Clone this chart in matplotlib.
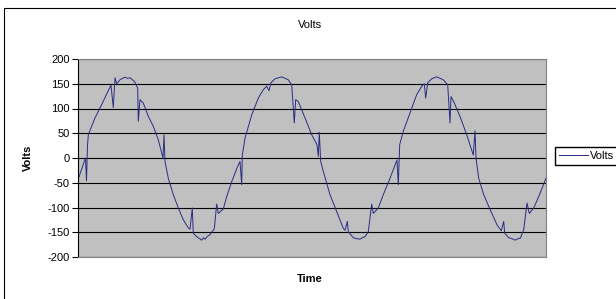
import matplotlib
matplotlib.use("Agg")
import matplotlib.pyplot as plt
from matplotlib.patches import Rectangle

plt.rcParams['font.family'] = ['Liberation Sans', 'DejaVu Sans']

# muestras (eje de tiempo, sin unidades) y tension en volts
muestra = [
    # ciclo 1
    0, 7.5, 8.5, 9.5, 10.3, 17, 23.7, 30, 33, 35.3, 37, 38.7, 42, 44.5, 47, 49.5,
    52, 56.3, 58.7, 59.7, 60.3, 62, 63.7, 65.3, 70.3, 75.3, 79, 80.3, 83.7, 85,
    86, 87, 90.3, 95.3, 100.3, 105.3, 110.3, 112, 114.3, 115.3, 118.7, 121,
    123.7, 125.5, 127, 129.5, 132, 136.3, 138.7, 140.3, 145.3, 148.7, 153.7, 159,
    # ciclo 2
    162, 163.7, 164.3, 167, 173.7, 180.3, 185.3, 188.7, 191, 193, 197, 200.5,
    203.7, 207, 210.3, 213.7, 216.3, 217.7, 220.3, 227, 233.7, 239, 240.3, 241.3,
    242.7, 245.3, 252, 258.7, 265.3, 267, 269.3, 270.3, 275.3, 278.5, 282, 284.5,
    287, 290.3, 293.7, 295.3, 300.3, 305.3, 312, 319,
    # ciclo 3
    320.3, 321.7, 325.3, 332, 338.7, 343.7, 346.3, 347.7, 349.7, 353.7, 356,
    358.7, 362, 365.3, 369.7, 372, 373, 376.3, 382, 388.7, 395.3, 397, 398,
    400.7, 405.7, 412.3, 419, 423.3, 425.7, 426.7, 430.7, 434, 437.3, 440,
    442.3, 445.7, 449, 451.3, 455.7, 460.7, 468,
]
volts = [
    # ciclo 1
    -44, 0, -46, 25, 47, 81, 108, 135, 147, 102, 162, 150, 158, 161, 163, 161,
    162, 155, 145, 141, 74, 118, 114, 111, 84, 64, 44, 37, 10, 0,
    47, -7, -41, -74, -101, -125, -141, -144, -101, -152, -159, -162,
    -166, -161, -164, -158, -155, -143, -93, -112, -103, -78, -48, -20,
    # ciclo 2
    -7, -54, 6, 40, 87, 121, 138, 145, 136, 152, 160, 162,
    164, 161, 158, 148, 71, 118, 114, 81, 47, 27, 3, 52,
    -7, -27, -74, -108, -142, -146, -128, -149, -161, -163, -164, -161,
    -159, -149, -93, -112, -101, -74, -41, -4,
    # ciclo 3
    -54, 27, 54, 91, 128, 145, 150, 121, 152, 160, 162,
    164, 161, 158, 148, 71, 124, 111, 84, 47, 6, 55, 0,
    -41, -74, -105, -135, -147, -128, -152, -161, -163, -166, -163,
    -162, -145, -91, -112, -101, -78, -41,
]

ticks_y = [-200, -150, -100, -50, 0, 50, 100, 150, 200]

W, H = 616, 299
fig = plt.figure(figsize=(W / 100, H / 100), dpi=100)

# borde del area del grafico (estilo Excel)
fig.patches.append(Rectangle((4 / W, -0.1), 1.2, 1 - 8 / H + 0.1,
                             transform=fig.transFigure, fill=False,
                             edgecolor='black', linewidth=0.8))

ax = fig.add_axes([78 / W, 42 / H, 468 / W, 198 / H])
ax.set_facecolor('#c0c0c0')

ax.plot(muestra, volts, color='#2b2b85', linewidth=0.7, label='Volts')

ax.set_xlim(0, 468)
ax.set_ylim(-200, 200)
ax.set_yticks(ticks_y)
ax.set_yticklabels([str(t) for t in ticks_y], fontsize=8)
ax.set_xticks([])
ax.tick_params(axis='y', direction='out', length=4, width=0.8, pad=2, colors='black')

ax.grid(axis='y', color='black', linewidth=0.8)
ax.set_axisbelow(True)

for lado in ['top', 'right', 'bottom']:
    ax.spines[lado].set_color('#808080')
    ax.spines[lado].set_linewidth(0.8)
ax.spines['left'].set_color('black')
ax.spines['left'].set_linewidth(0.8)

fig.text(310 / W, 1 - 25 / H, 'Volts', ha='center', va='center', fontsize=8)
fig.text(310 / W, 1 - 279 / H, 'Time', ha='center', va='center',
         fontsize=8, fontweight='bold')
fig.text(28 / W, 1 - 158 / H, 'Volts', ha='center', va='center',
         rotation=90, fontsize=8, fontweight='bold')

fig.legend(loc='upper left', bbox_to_anchor=(555 / W, 1 - 147 / H),
           fontsize=8, fancybox=False, edgecolor='black', framealpha=1,
           borderpad=0.35, handlelength=2.6, handletextpad=0.2, borderaxespad=0)

fig.savefig('out.png', dpi=100)
